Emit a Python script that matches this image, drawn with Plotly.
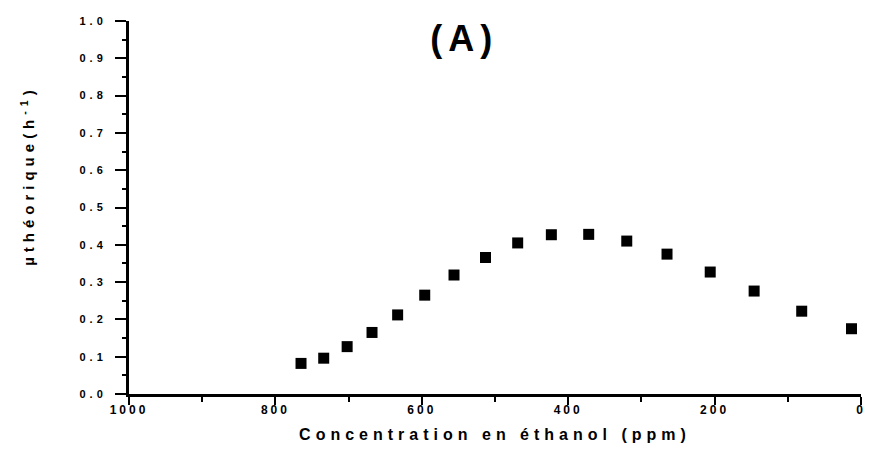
import plotly.graph_objects as go

# Ethanol concentration (ppm) and theoretical growth rate (h^-1)
concentration = [765, 734, 702, 668, 633, 596, 556, 513, 469, 423, 372, 320, 265, 206, 146, 81, 13]
mu_theorique = [0.082, 0.096, 0.127, 0.165, 0.212, 0.265, 0.319, 0.366, 0.405, 0.427,
                0.428, 0.410, 0.375, 0.327, 0.276, 0.222, 0.175]

x_ticks = [1000, 800, 600, 400, 200, 0]
y_ticks = [0.0, 0.1, 0.2, 0.3, 0.4, 0.5, 0.6, 0.7, 0.8, 0.9, 1.0]

FONT = "Liberation Sans, Arial, sans-serif"

fig = go.Figure(
    go.Scatter(
        x=concentration,
        y=mu_theorique,
        mode="markers",
        marker=dict(symbol="square", size=11, color="black"),
        showlegend=False,
    )
)

fig.update_layout(
    width=872,
    height=456,
    margin=dict(l=129, r=7, t=21, b=62),
    paper_bgcolor="white",
    plot_bgcolor="white",
    font=dict(family=FONT, color="black", weight="bold"),
    title=dict(
        text="(A)",
        font=dict(size=36, family=FONT, weight="bold"),
        xref="paper", x=0.458, xanchor="center",
        yref="container", y=1 - 38 / 456, yanchor="middle",
    ),
    annotations=[
        # vertical y-axis label, sitting a little above the axis midpoint
        dict(
            text="µthéorique(h<sup>-1</sup>)",
            textangle=-90,
            xref="paper", x=-129 / 736 + 27 / 736, xanchor="center",
            yref="paper", y=0.585, yanchor="middle",
            showarrow=False,
            font=dict(size=15, family=FONT, weight="bold"),
        )
    ],
)

fig.update_xaxes(
    range=[1000, 0],
    tickmode="array", tickvals=x_ticks, ticktext=[str(v) for v in x_ticks],
    ticks="outside", ticklen=8, tickwidth=2, tickcolor="black",
    minor=dict(dtick=100, ticks="outside", ticklen=5, tickwidth=2, tickcolor="black"),
    showline=True, linewidth=3, linecolor="black",
    showgrid=False, zeroline=False,
    tickfont=dict(size=12, family=FONT, weight="bold"),
    ticklabelstandoff=-5,
    title=dict(text="Concentration en éthanol (ppm)",
               font=dict(size=16, family=FONT, weight="bold"), standoff=13),
)

fig.update_yaxes(
    range=[0, 1.0],
    tickmode="array", tickvals=y_ticks, ticktext=[f"{v:.1f}" for v in y_ticks],
    ticks="outside", ticklen=11, tickwidth=2, tickcolor="black",
    minor=dict(dtick=0.05, ticks="outside", ticklen=4, tickwidth=2, tickcolor="black"),
    showline=True, linewidth=3, linecolor="black",
    showgrid=False, zeroline=False,
    tickfont=dict(size=11, family=FONT, weight="bold"),
    ticklabelstandoff=6,
)

# Wide letter spacing on the axis texts
spacing_js = """
var gd = document.getElementById('{plot_id}');
function spaceText() {
  gd.querySelectorAll('.g-xtitle text').forEach(function (t) {
    t.style.letterSpacing = '5px';
  });
  gd.querySelectorAll('.annotation-text').forEach(function (t) {
    t.style.letterSpacing = '5px';
  });
  gd.querySelectorAll('.xtick text').forEach(function (t) {
    t.style.letterSpacing = '3px';
  });
  gd.querySelectorAll('.ytick text').forEach(function (t) {
    t.style.letterSpacing = '4px';
  });
  gd.querySelectorAll('.g-gtitle text').forEach(function (t) {
    t.style.letterSpacing = '6px';
  });
}
spaceText();
gd.on('plotly_afterplot', spaceText);
"""

fig.write_html("out.html", post_script=spacing_js)
